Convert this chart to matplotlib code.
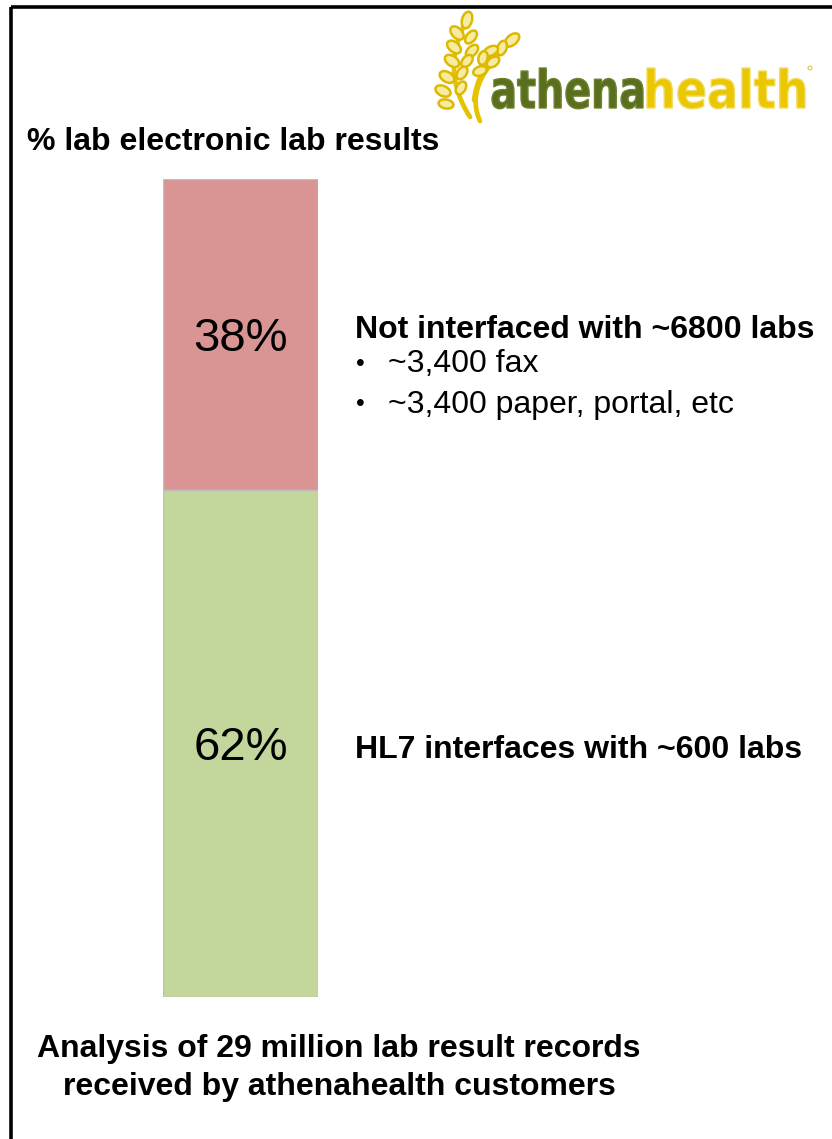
import matplotlib
matplotlib.use("Agg")
import matplotlib.pyplot as plt
from matplotlib.patches import Ellipse, PathPatch
from matplotlib.textpath import TextPath
from matplotlib.font_manager import FontProperties
from matplotlib.transforms import Affine2D
import numpy as np

# --- data -------------------------------------------------------------
segments = ["HL7 interfaced", "Not interfaced"]
shares = [62, 38]
seg_colors = ["#C3D69B", "#D99594"]

title = "% lab electronic lab results"
not_interfaced_head = "Not interfaced with ~6800 labs"
not_interfaced_items = ["~3,400 fax", "~3,400 paper, portal, etc"]
hl7_head = "HL7 interfaces with ~600 labs"
footer = ["Analysis of 29 million lab result records",
          "received by athenahealth customers"]

W, H = 832, 1139
fig = plt.figure(figsize=(W / 100, H / 100), dpi=100)
fig.patch.set_facecolor("white")

# full-page canvas in pixel units (y downwards)
cv = fig.add_axes([0, 0, 1, 1])
cv.set_xlim(0, W)
cv.set_ylim(H, 0)
cv.axis("off")

# frame: top and left rules only
cv.plot([11, W], [7, 7], color="black", lw=2.6, solid_capstyle="butt")
cv.plot([11, 11], [7, H], color="black", lw=2.6, solid_capstyle="butt")

SANS = ["Liberation Sans", "DejaVu Sans"]

cv.text(27, 138, title, fontsize=23, fontweight="bold", family=SANS,
        ha="left", va="center_baseline", color="black")

# --- stacked bar ------------------------------------------------------
bx0, bx1, by0, by1 = 163, 318, 179, 997
ax = fig.add_axes([bx0 / W, 1 - by1 / H, (bx1 - bx0) / W, (by1 - by0) / H])
ax.set_xlim(-0.5, 0.5)
ax.set_ylim(0, 100)
ax.axis("off")
bottom = 0
for name, val, col in zip(segments, shares, seg_colors):
    ax.bar(0, val, width=1.0, bottom=bottom, color=col,
           edgecolor="#BFBFBF", linewidth=1.0)
    # digits sit centred on the segment: baseline half a digit height below
    ax.annotate(f"{val}%", xy=(0, bottom + val / 2), xytext=(0, -17),
                textcoords="offset pixels", ha="center", va="baseline",
                fontsize=34, family=SANS, color="black")
    bottom += val

# --- annotations --------------------------------------------------------
cv.text(355, 326, not_interfaced_head, fontsize=23, fontweight="bold",
        family=SANS, ha="left", va="center_baseline")
for i, item in enumerate(not_interfaced_items):
    y = 361 + i * 40
    cv.text(356, y, "\u2022", fontsize=18, family=SANS, ha="left",
            va="center_baseline")
    cv.text(388, y, item, fontsize=23, family=SANS, ha="left",
            va="center_baseline")

cv.text(355, 746, hl7_head, fontsize=23, fontweight="bold", family=SANS,
        ha="left", va="center_baseline")

cv.text(339, 1045, footer[0], fontsize=23, fontweight="bold", family=SANS,
        ha="center", va="center_baseline")
cv.text(339, 1083, footer[1], fontsize=23, fontweight="bold", family=SANS,
        ha="center", va="center_baseline")

# --- logo ------------------------------------------------------------
leaf_face, leaf_edge, stem_col = "#F7EBA0", "#DDB900", "#E4C400"

def curve(p0, p1, p2, n=40):
    t = np.linspace(0, 1, n)[:, None]
    p0, p1, p2 = map(np.asarray, (p0, p1, p2))
    return (1 - t) ** 2 * p0 + 2 * (1 - t) * t * p1 + t ** 2 * p2

stems = [
    ((470, 117), (440, 70), (466, 22)),      # left branch
    ((474, 100), (480, 60), (512, 40)),      # right branch
    ((497, 57), (466, 90), (480, 121)),      # front swoosh
]
for p0, p1, p2 in stems:
    c = curve(p0, p1, p2)
    cv.plot(c[:, 0], c[:, 1], color=stem_col, lw=3.4,
            solid_capstyle="round", zorder=3)

leaves = [
    (467, 20, 10, 17, 15), (457, 33, 10, 16, -45), (471, 37, 9, 15, 40),
    (454, 47, 10, 16, -50), (472, 51, 9, 15, 45), (452, 61, 10, 16, -55),
    (467, 61, 9, 14, 40), (447, 77, 10, 16, -60), (462, 73, 9, 14, 35),
    (443, 91, 10, 16, -65), (461, 88, 9, 14, 30), (446, 104, 9, 15, -80),
    (512, 40, 10, 17, 50), (502, 48, 9, 15, 20), (491, 51, 9, 15, 65),
    (483, 58, 9, 14, 15), (480, 71, 9, 14, 70), (493, 62, 9, 14, 55),
]
for x, y, w, h, ang in leaves:
    cv.add_patch(Ellipse((x, y), w, h, angle=ang, facecolor=leaf_face,
                         edgecolor=leaf_edge, lw=1.8, zorder=4))


def fitted_word(s, x0, x1, top, base, face, edge, prop):
    """Draw a word as an outline stretched to fill [x0, x1] x [top, base]."""
    tp = TextPath((0, 0), s, size=100, prop=prop)
    ext = tp.get_extents()
    sx = (x1 - x0) / ext.width
    sy = (base - top) / ext.y1
    tr = Affine2D().translate(-ext.x0, 0).scale(sx, -sy).translate(x0, base)
    cv.add_patch(PathPatch(tr.transform_path(tp), facecolor=face,
                           edgecolor=edge, lw=1.0, zorder=5))


logo_font = FontProperties(family="DejaVu Sans", weight="bold")
fitted_word("athena", 492, 643, 68, 108, "#5A6F1D", "#6E8230", logo_font)
fitted_word("health", 647, 805, 68, 108, "#EBC700", "#F2DA66", logo_font)
cv.add_patch(Ellipse((810, 68), 4, 4, facecolor="none",
                     edgecolor="#E6CB40", lw=0.8, zorder=5))

fig.savefig("out.png", dpi=100, facecolor="white")
